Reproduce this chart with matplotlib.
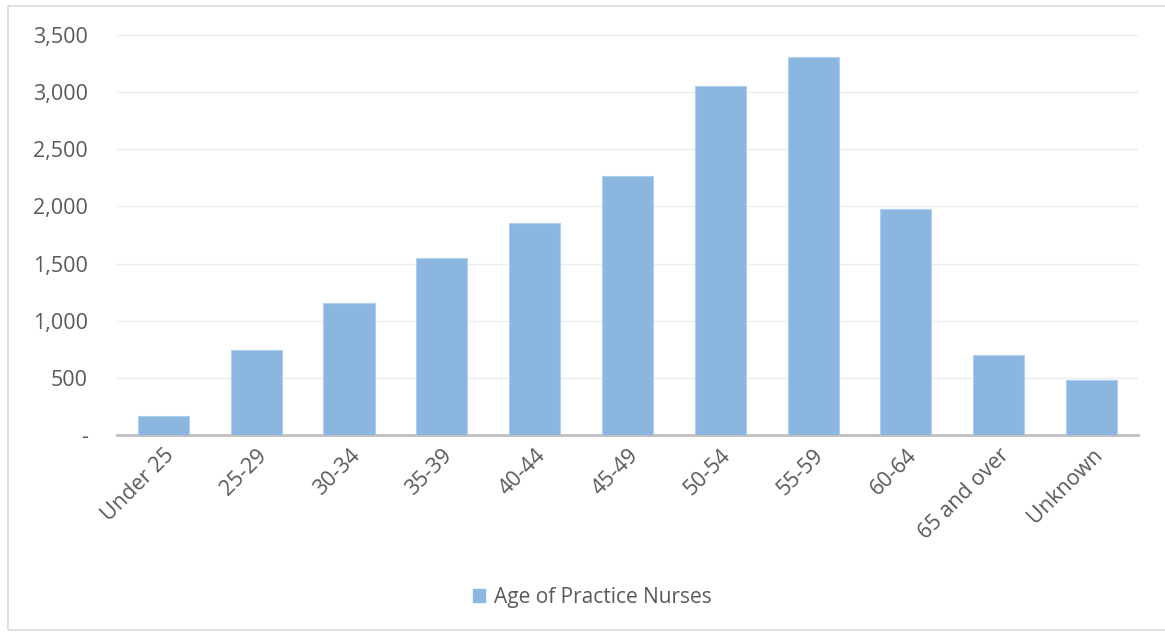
import matplotlib
matplotlib.use('Agg')
import matplotlib.pyplot as plt
from matplotlib.patches import Rectangle, Patch
from matplotlib.ticker import FuncFormatter

categories = ['Under 25', '25-29', '30-34', '35-39', '40-44', '45-49',
              '50-54', '55-59', '60-64', '65 and over', 'Unknown']
nurses = [165, 745, 1155, 1549, 1855, 2266, 3054, 3307, 1977, 700, 481]

plt.rcParams['font.family'] = ['Open Sans', 'DejaVu Sans']
text_color = '#595959'
bar_color = '#8ab6e0'

fig = plt.figure(figsize=(11.65, 6.32), dpi=100)
ax = fig.add_axes([0.1004, 0.3117, 0.8764, 0.6329])

ax.bar(range(len(categories)), nurses, width=0.55, color=bar_color,
       edgecolor='#b0d0ee', linewidth=0.8, zorder=3)

ax.set_xlim(-0.5, len(categories) - 0.5)
ax.set_ylim(0, 3500)
ax.set_yticks(range(0, 3501, 500))
ax.yaxis.set_major_formatter(FuncFormatter(lambda v, p: '-' if v == 0 else f'{int(v):,}'))
ax.grid(axis='y', color='#ececec', linewidth=1, zorder=0)
ax.set_xticks(range(len(categories)))
ax.set_xticklabels(categories, rotation=45, ha='right', rotation_mode='anchor')

for s in ['top', 'right', 'left']:
    ax.spines[s].set_visible(False)
ax.spines['bottom'].set_color('#bfbfbf')
ax.spines['bottom'].set_linewidth(2)
ax.tick_params(axis='both', length=0, labelsize=15.5, colors=text_color)
ax.tick_params(axis='y', pad=21)
ax.tick_params(axis='x', pad=7)

fig.legend(handles=[Patch(color=bar_color, label='Age of Practice Nurses')],
           loc='center', bbox_to_anchor=(592 / 1165, 1 - 597 / 632),
           frameon=False, fontsize=15, labelcolor=text_color,
           handlelength=0.6, handleheight=0.6, handletextpad=0.4)

fig.patches.append(Rectangle((8 / 1165, 2 / 632), 1.0, 1 - 8 / 632,
                             transform=fig.transFigure, fill=False,
                             edgecolor='#d9d9d9', linewidth=1.2))

fig.savefig('out.png', dpi=100)
